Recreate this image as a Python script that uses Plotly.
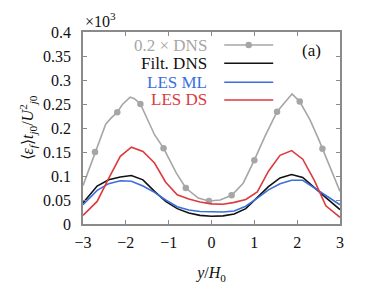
import plotly.graph_objects as go

# ---- data ----
x_les = [-3.0, -2.67, -2.4, -2.13, -1.87, -1.6, -1.33, -1.07, -0.8, -0.53, -0.27, 0.0,
         0.27, 0.53, 0.8, 1.07, 1.33, 1.6, 1.87, 2.13, 2.4, 2.67, 3.0]
filt_dns = [0.044, 0.079, 0.092, 0.098, 0.101, 0.092, 0.068, 0.047, 0.032, 0.023, 0.018, 0.016,
            0.017, 0.021, 0.032, 0.055, 0.078, 0.096, 0.103, 0.097, 0.077, 0.055, 0.030]
les_ml = [0.040, 0.070, 0.084, 0.090, 0.089, 0.079, 0.066, 0.050, 0.036, 0.029, 0.026, 0.025,
          0.025, 0.027, 0.037, 0.054, 0.071, 0.084, 0.091, 0.091, 0.075, 0.058, 0.040]
les_ds = [0.018, 0.047, 0.095, 0.141, 0.160, 0.151, 0.127, 0.087, 0.061, 0.052, 0.046, 0.042,
          0.041, 0.045, 0.051, 0.067, 0.110, 0.143, 0.153, 0.135, 0.091, 0.038, 0.014]

x_dns = [-3.0, -2.72, -2.47, -2.34, -2.20, -2.08, -1.90, -1.80, -1.66, -1.33, -1.12, -0.82,
         -0.60, -0.31, -0.06, 0.20, 0.47, 0.74, 1.00, 1.25, 1.53, 1.71, 1.88, 2.06, 2.30,
         2.49, 2.59, 3.0]
dns_02 = [0.080, 0.150, 0.208, 0.221, 0.233, 0.249, 0.264, 0.261, 0.250, 0.186, 0.158, 0.106,
          0.075, 0.054, 0.048, 0.050, 0.060, 0.085, 0.133, 0.183, 0.234, 0.253, 0.271, 0.255,
          0.217, 0.179, 0.157, 0.068]
dns_marker_idx = [1, 4, 8, 10, 12, 14, 16, 18, 20, 23, 26]

y_ticks = [0, 0.05, 0.1, 0.15, 0.2, 0.25, 0.3, 0.35, 0.4]
y_ticktext = ["0", "0.05", "0.1", "0.15", "0.2", "0.25", "0.3", "0.35", "0.4"]
x_ticks = [-3, -2, -1, 0, 1, 2, 3]

legend_labels = ["0.2 × DNS", "Filt. DNS", "LES ML", "LES DS"]

GRAY = "#a6a6a6"
BLACK = "#111111"
BLUE = "#3a6fdc"
RED = "#dc3a3f"
FONT = "Liberation Serif"

fig = go.Figure()

# curves
fig.add_trace(go.Scatter(x=x_dns, y=dns_02, mode="lines", line=dict(color=GRAY, width=1.6),
                         showlegend=False, hoverinfo="skip"))
fig.add_trace(go.Scatter(x=[x_dns[i] for i in dns_marker_idx], y=[dns_02[i] for i in dns_marker_idx],
                         mode="markers", marker=dict(color=GRAY, size=6.5), showlegend=False))
fig.add_trace(go.Scatter(x=x_les, y=filt_dns, mode="lines", line=dict(color=BLACK, width=1.6),
                         showlegend=False))
fig.add_trace(go.Scatter(x=x_les, y=les_ml, mode="lines", line=dict(color=BLUE, width=1.6),
                         showlegend=False))
fig.add_trace(go.Scatter(x=x_les, y=les_ds, mode="lines", line=dict(color=RED, width=1.6),
                         showlegend=False))

# legend keys: one small legend per row (labels drawn as right-aligned annotations)
label_colors = [GRAY, BLACK, BLUE, RED]
label_y = [0.932, 0.837, 0.738, 0.646]
legend_names = ["legend", "legend2", "legend3", "legend4"]
legend_layout = {}
for i, (col, lname, yy) in enumerate(zip(label_colors, legend_names, label_y)):
    mode = "lines+markers" if i == 0 else "lines"
    fig.add_trace(go.Scatter(x=[None], y=[None], mode=mode, name=" ", legend=lname,
                             line=dict(color=col, width=1.6),
                             marker=dict(color=col, size=6.5), showlegend=True))
    legend_layout[lname] = dict(x=0.53, y=yy, xanchor="left", yanchor="middle",
                                bgcolor="rgba(0,0,0,0)", font=dict(family=FONT, size=12),
                                itemwidth=49, borderwidth=0)

ann = []
for txt, col, yy in zip(legend_labels, label_colors, label_y):
    ann.append(dict(text=txt, xref="paper", yref="paper", x=0.489, y=yy, xanchor="right",
                    yanchor="middle", showarrow=False,
                    font=dict(family=FONT, size=17, color=col)))
ann.append(dict(text="(a)", xref="paper", yref="paper", x=0.89, y=0.906, xanchor="center",
                yanchor="middle", showarrow=False, font=dict(family=FONT, size=17, color="#111")))
ann.append(dict(text="×10<sup>3</sup>", xref="paper", yref="paper", x=0.0, y=1.062, xanchor="left",
                yanchor="middle", showarrow=False, font=dict(family=FONT, size=16, color="#111")))

axis_common = dict(showline=True, linecolor="#8a8a8a", linewidth=1.5, mirror="ticks",
                   ticks="inside", ticklen=4, tickwidth=1.2, tickcolor="#8a8a8a",
                   showgrid=False, zeroline=False, automargin=False,
                   tickfont=dict(family=FONT, size=16, color="#111"))

fig.update_layout(
    width=374, height=284,
    margin=dict(l=83, r=34, t=32, b=60),
    paper_bgcolor="white", plot_bgcolor="white",
    font=dict(family=FONT, size=16, color="#111"),
    xaxis=dict(range=[-3, 3], tickvals=x_ticks, ticklabelstandoff=3, **axis_common,
               title=dict(text="<i>y</i>/<i>H</i><sub>0</sub>", standoff=17,
                          font=dict(family=FONT, size=16))),
    yaxis=dict(range=[0, 0.4], tickvals=y_ticks, ticktext=y_ticktext, ticklabelstandoff=7,
               **axis_common,
               title=dict(text="⟨<i>ε</i><sub><i>f</i></sub>⟩<i>t</i><sub><i>j</i>0</sub>/<i>U</i><sup>2</sup><sub><i>j</i>0</sub>",
                          standoff=5, font=dict(family=FONT, size=16))),
    annotations=ann,
    showlegend=True,
    **legend_layout,
)

fig.write_html("out.html", post_script="document.body.style.margin='0';",
               config={"displayModeBar": False})
